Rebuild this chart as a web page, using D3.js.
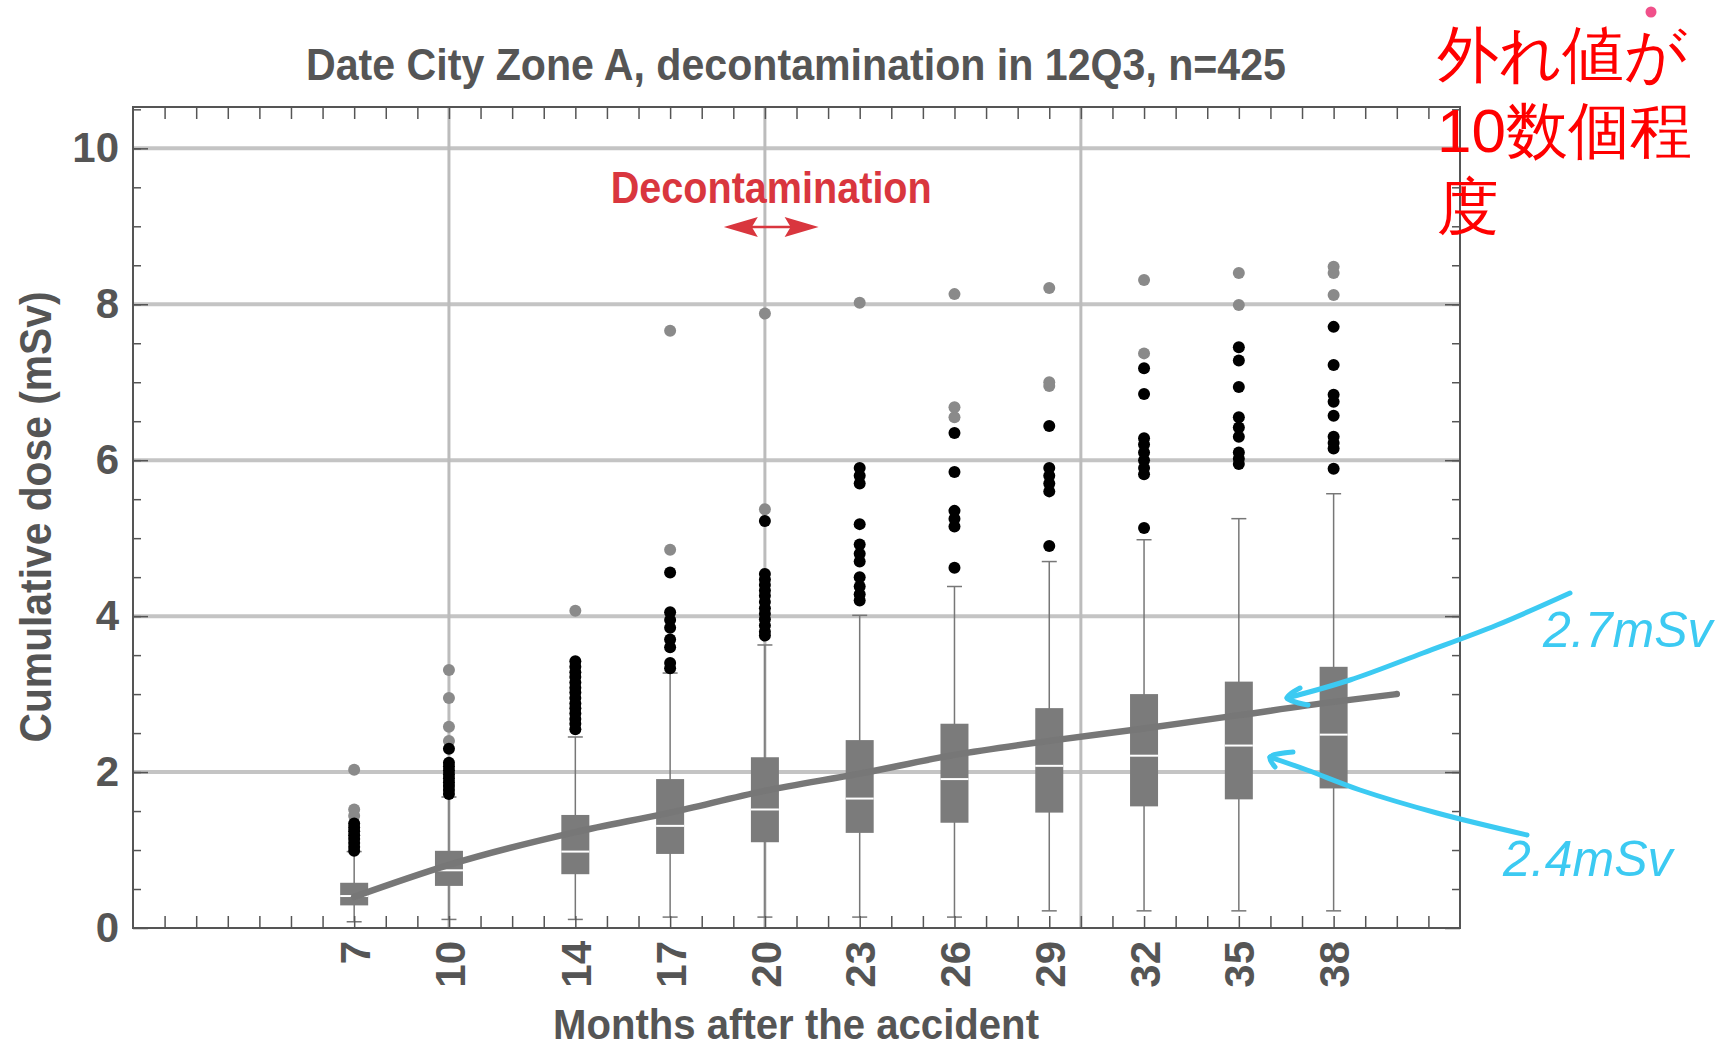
<!DOCTYPE html>
<html lang="en">
<head>
<meta charset="UTF-8">
<title>Date City Zone A - cumulative dose</title>
<script src="https://d3js.org/d3.v7.min.js"></script>
<style>
  body { margin: 0; background: #fff; }
  svg { display: block; }
  text { font-family: "Liberation Sans", Arial, Helvetica, sans-serif; }
  .domain { display: none; }
  .tick line { stroke: #555; stroke-width: 1.5px; }
</style>
</head>
<body>
<svg id="chart"></svg>
<script>
// months after the accident (one box per survey)
const months  = [7, 10, 14, 17, 20, 23, 26, 29, 32, 35, 38];
// box plot statistics, mSv
const q1      = [0.29, 0.54, 0.69, 0.95, 1.10, 1.22, 1.35, 1.48, 1.56, 1.65, 1.79];
const median  = [0.41, 0.74, 0.98, 1.31, 1.52, 1.66, 1.91, 2.08, 2.21, 2.34, 2.48];
const q3      = [0.58, 0.99, 1.45, 1.91, 2.19, 2.41, 2.62, 2.82, 3.00, 3.16, 3.35];
const whiskLo = [0.08, 0.11, 0.11, 0.14, 0.14, 0.14, 0.14, 0.22, 0.22, 0.22, 0.22];
const whiskHi = [0.98, 1.68, 2.45, 3.27, 3.63, 4.01, 4.38, 4.70, 4.98, 5.25, 5.57];
// outliers (black = near, gray = far)
const outBlack = [
  [0.99, 1.04, 1.09, 1.14, 1.19, 1.24, 1.29, 1.34],
  [1.72, 1.77, 1.82, 1.87, 1.92, 1.97, 2.02, 2.07, 2.12, 2.30],
  [2.55, 2.62, 2.68, 2.75, 2.82, 2.88, 2.95, 3.02, 3.08, 3.15, 3.22, 3.28, 3.35, 3.42],
  [3.33, 3.40, 3.60, 3.70, 3.85, 3.95, 4.05, 4.56],
  [3.75, 3.80, 3.88, 3.96, 4.03, 4.10, 4.18, 4.26, 4.33, 4.40, 4.47, 4.54, 5.22],
  [4.20, 4.28, 4.38, 4.50, 4.70, 4.80, 4.92, 5.18, 5.70, 5.80, 5.90],
  [4.62, 5.15, 5.25, 5.35, 5.85, 6.35],
  [4.90, 5.60, 5.70, 5.80, 5.90, 6.44],
  [5.13, 5.82, 5.90, 6.00, 6.10, 6.20, 6.28, 6.85, 7.18],
  [5.95, 6.02, 6.10, 6.30, 6.42, 6.55, 6.94, 7.28, 7.45],
  [5.89, 6.15, 6.22, 6.30, 6.57, 6.75, 6.84, 7.22, 7.71]
];
const outGray = [
  [1.44, 1.52, 2.03],
  [2.40, 2.58, 2.95, 3.31],
  [4.07],
  [4.85, 7.66],
  [5.37, 7.88],
  [8.02],
  [6.55, 6.68, 8.13],
  [6.95, 7.00, 8.21],
  [7.37, 8.31],
  [7.99, 8.40],
  [8.12, 8.40, 8.48]
];
// fitted trend curve
const trendMonths = [7, 10, 14, 17, 20, 23, 26, 29, 32, 35, 38, 40];
const trendDose   = [0.40, 0.81, 1.23, 1.48, 1.76, 1.98, 2.22, 2.40, 2.56, 2.73, 2.90, 3.00];
const yLabels = [0, 2, 4, 6, 8, 10];
const xGrid = [10, 20, 30];
const deconSpan = [18.7, 21.7];

const width = 1724, height = 1048;
const svg = d3.select("#chart").attr("width", width).attr("height", height);

const x = d3.scaleLinear().domain([0, 42]).range([133, 1460]);
const y = d3.scaleLinear().domain([0, 10.53]).range([928, 107]);
const [plotLeft, plotRight] = x.range();
const [plotBottom, plotTop] = y.range();

// grid
svg.append("g").selectAll("line")
  .data(yLabels.filter(d => d > 0))
  .join("line")
  .attr("x1", plotLeft).attr("x2", plotRight)
  .attr("y1", d => y(d)).attr("y2", d => y(d))
  .attr("stroke", "#c4c4c4").attr("stroke-width", 4);

svg.append("g").selectAll("line")
  .data(xGrid)
  .join("line")
  .attr("x1", d => x(d)).attr("x2", d => x(d))
  .attr("y1", plotTop).attr("y2", plotBottom)
  .attr("stroke", "#bcbcbc").attr("stroke-width", 3);

// boxes
const boxW = 28, capW = 15;
const boxes = svg.append("g").selectAll("g")
  .data(months.map((m, i) => ({ m, i })))
  .join("g");

boxes.append("line")
  .attr("x1", d => x(d.m)).attr("x2", d => x(d.m))
  .attr("y1", d => y(whiskLo[d.i])).attr("y2", d => y(whiskHi[d.i]))
  .attr("stroke", "#777").attr("stroke-width", 1.5);
boxes.append("line")
  .attr("x1", d => x(d.m) - capW / 2).attr("x2", d => x(d.m) + capW / 2)
  .attr("y1", d => y(whiskLo[d.i])).attr("y2", d => y(whiskLo[d.i]))
  .attr("stroke", "#777").attr("stroke-width", 1.5);
boxes.append("line")
  .attr("x1", d => x(d.m) - capW / 2).attr("x2", d => x(d.m) + capW / 2)
  .attr("y1", d => y(whiskHi[d.i])).attr("y2", d => y(whiskHi[d.i]))
  .attr("stroke", "#777").attr("stroke-width", 1.5);
boxes.append("rect")
  .attr("x", d => x(d.m) - boxW / 2).attr("width", boxW)
  .attr("y", d => y(q3[d.i])).attr("height", d => y(q1[d.i]) - y(q3[d.i]))
  .attr("fill", "#7b7b7b");
boxes.append("line")
  .attr("x1", d => x(d.m) - boxW / 2).attr("x2", d => x(d.m) + boxW / 2)
  .attr("y1", d => y(median[d.i])).attr("y2", d => y(median[d.i]))
  .attr("stroke", "#fff").attr("stroke-width", 2);

// outliers
const dots = (arr, color) => svg.append("g").selectAll("circle")
  .data(arr.flatMap((vals, i) => vals.map(v => ({ m: months[i], v }))))
  .join("circle")
  .attr("cx", d => x(d.m)).attr("cy", d => y(d.v)).attr("r", 6)
  .attr("fill", color);
dots(outGray, "#8a8a8a");
dots(outBlack, "#000");

// trend curve
svg.append("path")
  .datum(trendMonths.map((m, i) => [m, trendDose[i]]))
  .attr("fill", "none").attr("stroke", "#777").attr("stroke-width", 6.5)
  .attr("stroke-linecap", "round")
  .attr("d", d3.line().x(d => x(d[0])).y(d => y(d[1])).curve(d3.curveMonotoneX));

// frame and ticks
svg.append("rect")
  .attr("x", plotLeft).attr("y", plotTop)
  .attr("width", plotRight - plotLeft).attr("height", plotBottom - plotTop)
  .attr("fill", "none").attr("stroke", "#555").attr("stroke-width", 2);

const monthTicks = d3.range(1, 42);
svg.append("g").attr("transform", `translate(0,${plotBottom})`)
  .call(d3.axisBottom(x).tickValues(monthTicks).tickSize(-12).tickFormat(""));
svg.append("g").attr("transform", `translate(0,${plotTop})`)
  .call(d3.axisTop(x).tickValues(monthTicks).tickSize(-12).tickFormat(""));

const halfTicks = d3.range(0.5, 10.51, 0.5);
svg.append("g").attr("transform", `translate(${plotLeft},0)`)
  .call(d3.axisLeft(y).tickValues(halfTicks).tickSize(-8).tickFormat(""));
svg.append("g").attr("transform", `translate(${plotRight},0)`)
  .call(d3.axisRight(y).tickValues(halfTicks).tickSize(-8).tickFormat(""));
svg.append("g").attr("transform", `translate(${plotRight},0)`)
  .call(d3.axisRight(y).tickValues(yLabels).tickSize(-15).tickFormat(""));

const yAxis = svg.append("g").attr("transform", `translate(${plotLeft},0)`)
  .call(d3.axisLeft(y).tickValues(yLabels).tickSize(-15).tickPadding(14).tickFormat(d3.format("d")));
yAxis.selectAll("text")
  .attr("font-size", 42).attr("font-weight", "bold").attr("fill", "#555")
  .attr("font-family", "Liberation Sans, Arial, sans-serif");

const xAxis = svg.append("g").attr("transform", `translate(0,${plotBottom})`)
  .call(d3.axisBottom(x).tickValues(months).tickSize(0).tickFormat(d3.format("d")));
xAxis.selectAll("text")
  .attr("transform", "rotate(-90)")
  .attr("x", -13).attr("y", 0).attr("dy", "0.36em")
  .attr("text-anchor", "end")
  .attr("font-size", 42).attr("font-weight", "bold").attr("fill", "#555")
  .attr("font-family", "Liberation Sans, Arial, sans-serif");

// titles
svg.append("text")
  .attr("x", 796).attr("y", 80).attr("text-anchor", "middle")
  .attr("font-size", 44).attr("font-weight", "bold").attr("fill", "#555")
  .attr("textLength", 980).attr("lengthAdjust", "spacingAndGlyphs")
  .text("Date City Zone A, decontamination in 12Q3, n=425");

svg.append("text")
  .attr("x", 796).attr("y", 1039).attr("text-anchor", "middle")
  .attr("font-size", 43).attr("font-weight", "bold").attr("fill", "#555")
  .attr("textLength", 486).attr("lengthAdjust", "spacingAndGlyphs")
  .text("Months after the accident");

svg.append("text")
  .attr("transform", "translate(51,517) rotate(-90)").attr("text-anchor", "middle")
  .attr("font-size", 44).attr("font-weight", "bold").attr("fill", "#555")
  .attr("textLength", 451).attr("lengthAdjust", "spacingAndGlyphs")
  .text("Cumulative dose (mSv)");

// decontamination marker
const red = "#d9363e";
svg.append("text")
  .attr("x", x(d3.mean(deconSpan))).attr("y", 203).attr("text-anchor", "middle")
  .attr("font-size", 44).attr("font-weight", "bold").attr("fill", red)
  .attr("textLength", 321).attr("lengthAdjust", "spacingAndGlyphs")
  .text("Decontamination");

const ay = 227, ax0 = x(deconSpan[0]), ax1 = x(deconSpan[1]);
svg.append("line")
  .attr("x1", ax0 + 20).attr("x2", ax1 - 20).attr("y1", ay).attr("y2", ay)
  .attr("stroke", red).attr("stroke-width", 2.5);
svg.append("path")
  .attr("fill", red)
  .attr("d", `M${ax0},${ay} L${ax0 + 34},${ay - 10} L${ax0 + 28},${ay} L${ax0 + 34},${ay + 10} Z` +
             `M${ax1},${ay} L${ax1 - 34},${ay - 10} L${ax1 - 28},${ay} L${ax1 - 34},${ay + 10} Z`);

// red note (Japanese)
const note = svg.append("text")
  .attr("font-family", "Noto Sans CJK JP, sans-serif")
  .attr("font-size", 62).attr("fill", "#ff0000");
["外れ値が", "10数個程", "度"].forEach((s, i) => {
  note.append("tspan").attr("x", 1437).attr("y", 76 + i * 76).text(s);
});
svg.append("circle").attr("cx", 1651).attr("cy", 12).attr("r", 5.5).attr("fill", "#f0508a");

// blue hand-drawn notes
const blue = "#3ccaf2";
const pen = d3.line().curve(d3.curveCatmullRom);
const strokes = [
  [[1570, 593], [1497, 625], [1423, 653], [1350, 680], [1287, 698]],
  [[1300, 688], [1287, 698], [1308, 705]],
  [[1527, 835], [1437, 813], [1360, 790], [1307, 770], [1270, 757]],
  [[1293, 752], [1270, 757], [1275, 767]]
];
svg.append("g").selectAll("path")
  .data(strokes)
  .join("path")
  .attr("d", pen)
  .attr("fill", "none").attr("stroke", blue).attr("stroke-width", 5)
  .attr("stroke-linecap", "round").attr("stroke-linejoin", "round");

svg.append("text").attr("x", 1543).attr("y", 647)
  .attr("font-size", 50).attr("font-style", "italic").attr("fill", blue)
  .text("2.7mSv");
svg.append("text").attr("x", 1503).attr("y", 876)
  .attr("font-size", 50).attr("font-style", "italic").attr("fill", blue)
  .text("2.4mSv");
</script>
</body>
</html>
